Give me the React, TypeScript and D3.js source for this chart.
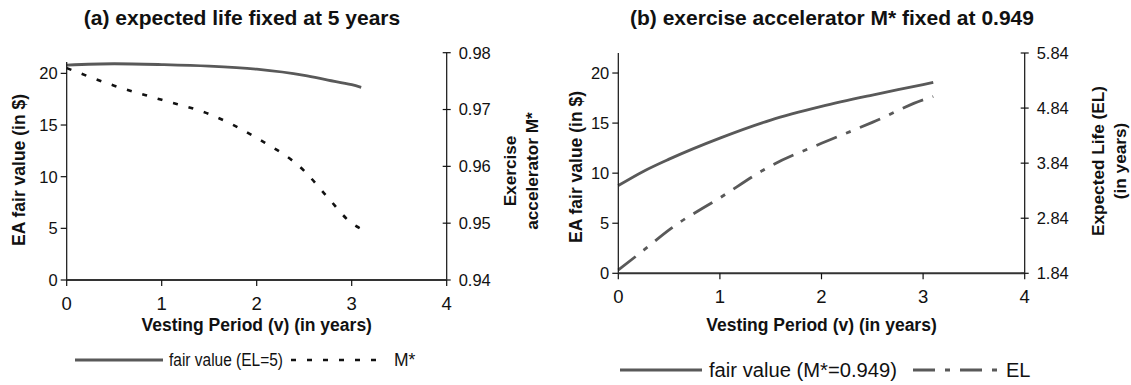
import * as d3 from "d3";

// ---- data ----
const xTicks = [0, 1, 2, 3, 4];
const fairTicks = [0, 5, 10, 15, 20];
const mStarTicks = [0.94, 0.95, 0.96, 0.97, 0.98];
const elTicks = [1.84, 2.84, 3.84, 4.84, 5.84];

// (a) expected life fixed at 5 years
const vestA = [0, 0.5, 1, 1.5, 2, 2.5, 2.75, 3, 3.1];
const fairA = [20.8, 20.93, 20.85, 20.7, 20.4, 19.8, 19.35, 18.9, 18.65];
const mStarA = [0.9773, 0.9742, 0.9717, 0.9692, 0.965, 0.9592, 0.9545, 0.95, 0.949];

// (b) exercise accelerator M* fixed at 0.949
const vestB = [0, 0.25, 0.5, 1, 1.5, 2, 2.5, 3, 3.1];
const fairB = [8.76, 10.2, 11.4, 13.5, 15.3, 16.66, 17.8, 18.85, 19.07];
const elB = [1.9, 2.26, 2.63, 3.21, 3.79, 4.2, 4.58, 4.99, 5.05];

const FONT = "'Liberation Sans', Arial, Helvetica, sans-serif";
const LINE = "#595959";

type Panel = {
  title: string;
  titleX: number;
  x0: number;
  x1: number;
  yBottom: number;
  yTop: number;
  leftAxisTop: number;
  rightDomain: [number, number];
  rightTicks: number[];
  vest: number[];
  fair: number[];
  right: number[];
  rightDash: string;
  rightColor: string;
  rightWidth: number;
  yLabelX: number;
  yLabelY: number;
  rightLabel: string[];
  rightLabelX: number[];
  rightLabelY: number;
  legendY: number;
  legendFont: number;
  legend: {
    solid: [number, number];
    text: number;
    textLen: number;
    label: string;
    other: [number, number];
    otherText: number;
    otherLabel: string;
  };
};

const panels: Panel[] = [
  {
    title: "(a) expected life fixed at 5 years",
    titleX: 242,
    x0: 66.7,
    x1: 446.7,
    yBottom: 280,
    yTop: 52.7,
    leftAxisTop: 21.1,
    rightDomain: [0.94, 0.98],
    rightTicks: mStarTicks,
    vest: vestA,
    fair: fairA,
    right: mStarA,
    rightDash: "5,11",
    rightColor: "#111",
    rightWidth: 2.6,
    yLabelX: 19,
    yLabelY: 170,
    rightLabel: ["Exercise", "accelerator M*"],
    rightLabelX: [510, 531.7],
    rightLabelY: 171,
    legendY: 360,
    legendFont: 17.5,
    legend: {
      solid: [75, 163],
      text: 169,
      textLen: 114,
      label: "fair value (EL=5)",
      other: [291, 387],
      otherText: 394,
      otherLabel: "M*",
    },
  },
  {
    title: "(b) exercise accelerator M* fixed at 0.949",
    titleX: 832,
    x0: 618.3,
    x1: 1024.7,
    yBottom: 273.3,
    yTop: 53,
    leftAxisTop: 22,
    rightDomain: [1.84, 5.84],
    rightTicks: elTicks,
    vest: vestB,
    fair: fairB,
    right: elB,
    rightDash: "22,10,5,10",
    rightColor: LINE,
    rightWidth: 2.8,
    yLabelX: 576,
    yLabelY: 167,
    rightLabel: ["Expected Life (EL)", "(in years)"],
    rightLabelX: [1098.3, 1120],
    rightLabelY: 161,
    legendY: 370,
    legendFont: 20,
    legend: {
      solid: [620, 702],
      text: 709,
      textLen: 188,
      label: "fair value (M*=0.949)",
      other: [913, 1000],
      otherText: 1006,
      otherLabel: "EL",
    },
  },
];

function ChartPanel({ p }: { p: Panel }) {
  const x = d3.scaleLinear().domain([0, 4]).range([p.x0, p.x1]);
  const yL = d3.scaleLinear().domain([0, 22]).range([p.yBottom, p.yTop]);
  const yR = d3.scaleLinear().domain(p.rightDomain).range([p.yBottom, p.yTop]);

  const fairLine = d3
    .line<number>()
    .x((_, i) => x(p.vest[i]))
    .y((d) => yL(d))
    .curve(d3.curveMonotoneX);
  const rightLine = d3
    .line<number>()
    .x((_, i) => x(p.vest[i]))
    .y((d) => yR(d))
    .curve(d3.curveMonotoneX);

  const lg = p.legend;

  return (
    <g fontFamily={FONT} fill="#111">
      <text x={p.titleX} y={25} textAnchor="middle" fontWeight="bold" fontSize={21}>
        {p.title}
      </text>

      {/* series */}
      <path d={fairLine(p.fair) ?? ""} fill="none" stroke={LINE} strokeWidth={2.8} />
      <path
        d={rightLine(p.right) ?? ""}
        fill="none"
        stroke={p.rightColor}
        strokeWidth={p.rightWidth}
        strokeDasharray={p.rightDash}
      />

      {/* left axis */}
      <line x1={p.x0} x2={p.x0} y1={yL(0)} y2={yL(p.leftAxisTop)} stroke="#111" strokeWidth={1.2} />
      {fairTicks.map((t) => (
        <g key={`l${t}`}>
          <line x1={p.x0 - 6} x2={p.x0} y1={yL(t)} y2={yL(t)} stroke="#111" strokeWidth={1.2} />
          <text x={p.x0 - 9} y={yL(t)} dy="0.36em" textAnchor="end" fontSize={16.5}>
            {t}
          </text>
        </g>
      ))}

      {/* right axis */}
      <line
        x1={p.x1}
        x2={p.x1}
        y1={yR(p.rightDomain[0])}
        y2={yR(p.rightDomain[1])}
        stroke="#111"
        strokeWidth={1.2}
      />
      {p.rightTicks.map((t) => (
        <g key={`r${t}`}>
          <line x1={p.x1 - 4} x2={p.x1 + 4} y1={yR(t)} y2={yR(t)} stroke="#111" strokeWidth={1.2} />
          <text x={p.x1 + 12} y={yR(t)} dy="0.36em" fontSize={16.5}>
            {d3.format(".2f")(t)}
          </text>
        </g>
      ))}

      {/* x axis */}
      <line x1={p.x0} x2={p.x1} y1={p.yBottom} y2={p.yBottom} stroke="#333" strokeWidth={2} />
      {xTicks.map((t) => (
        <g key={`x${t}`}>
          <line x1={x(t)} x2={x(t)} y1={p.yBottom} y2={p.yBottom + 6} stroke="#111" strokeWidth={1.2} />
          <text x={x(t)} y={p.yBottom + 30} textAnchor="middle" fontSize={18.5}>
            {t}
          </text>
        </g>
      ))}

      {/* axis titles */}
      <text x={(p.x0 + p.x1) / 2} y={331} textAnchor="middle" fontWeight="bold" fontSize={17.5}>
        Vesting Period (v) (in years)
      </text>
      <text
        transform={`translate(${p.yLabelX},${p.yLabelY}) rotate(-90)`}
        textAnchor="middle"
        dy="0.35em"
        fontWeight="bold"
        fontSize={17.5}
      >
        EA fair value (in $)
      </text>
      {p.rightLabel.map((s, i) => (
        <text
          key={s}
          transform={`translate(${p.rightLabelX[i]},${p.rightLabelY}) rotate(-90)`}
          textAnchor="middle"
          dy="0.35em"
          fontWeight="bold"
          fontSize={17.2}
        >
          {s}
        </text>
      ))}

      {/* legend */}
      <line x1={lg.solid[0]} x2={lg.solid[1]} y1={p.legendY} y2={p.legendY} stroke={LINE} strokeWidth={2.8} />
      <text
        x={lg.text}
        y={p.legendY}
        dy="0.35em"
        fontSize={p.legendFont}
        textLength={lg.textLen}
        lengthAdjust="spacingAndGlyphs"
      >
        {lg.label}
      </text>
      <line
        x1={lg.other[0]}
        x2={lg.other[1]}
        y1={p.legendY}
        y2={p.legendY}
        stroke={p.rightColor}
        strokeWidth={p.rightWidth}
        strokeDasharray={p.rightDash}
      />
      <text x={lg.otherText} y={p.legendY} dy="0.35em" fontSize={p.legendFont}>
        {lg.otherLabel}
      </text>
    </g>
  );
}

export default function App() {
  return (
    <svg width={1131} height={385} style={{ position: "absolute", left: 0, top: 0, background: "#fff" }}>
      {panels.map((p) => (
        <ChartPanel key={p.title} p={p} />
      ))}
    </svg>
  );
}
